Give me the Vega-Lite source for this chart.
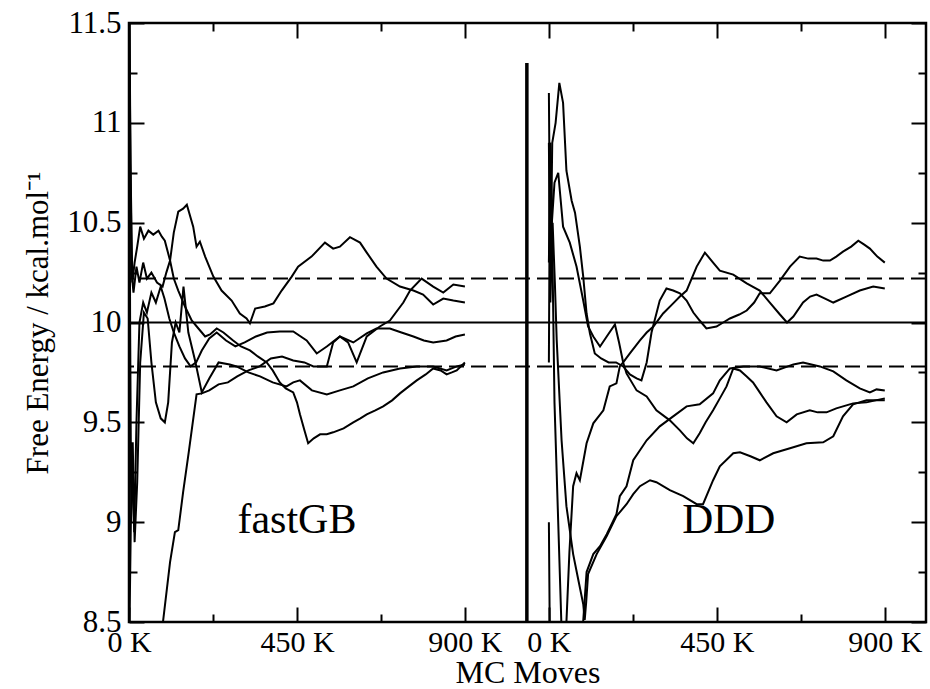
{
  "$schema": "https://vega.github.io/schema/vega-lite/v6.json",
  "width": 797,
  "height": 599,
  "autosize": {"type": "none"},
  "padding": {"left": 129, "top": 23, "right": 4, "bottom": 67},
  "background": "white",
  "config": {
    "view": {"stroke": "black", "strokeWidth": 2.5},
    "font": "Liberation Serif",
    "axis": {
      "domain": false, "grid": false, "tickColor": "black", "tickWidth": 2,
      "labelFont": "Liberation Serif", "labelFontSize": 31, "labelColor": "black",
      "labelFlush": false, "labelOverlap": false, "labelBound": false,
      "titleFont": "Liberation Serif", "titleFontWeight": "normal", "titleColor": "black"
    }
  },
  "datasets": {
    "fastGB": [
      {"run":"L1","moves":0,"fe":11.9},{"run":"L1","moves":3,"fe":11.0},{"run":"L1","moves":7,"fe":10.25},{"run":"L1","moves":12,"fe":10.15},{"run":"L1","moves":20,"fe":10.28},{"run":"L1","moves":28,"fe":10.2},{"run":"L1","moves":38,"fe":10.3},{"run":"L1","moves":48,"fe":10.22},{"run":"L1","moves":60,"fe":10.25},{"run":"L1","moves":75,"fe":10.2},{"run":"L1","moves":90,"fe":10.18},{"run":"L1","moves":100,"fe":10.25},{"run":"L1","moves":110,"fe":10.31},{"run":"L1","moves":120,"fe":10.45},{"run":"L1","moves":132,"fe":10.555},{"run":"L1","moves":145,"fe":10.57},{"run":"L1","moves":155,"fe":10.59},{"run":"L1","moves":172,"fe":10.48},{"run":"L1","moves":181,"fe":10.38},{"run":"L1","moves":190,"fe":10.405},{"run":"L1","moves":204,"fe":10.33},{"run":"L1","moves":226,"fe":10.23},{"run":"L1","moves":248,"fe":10.16},{"run":"L1","moves":275,"fe":10.11},{"run":"L1","moves":297,"fe":10.045},{"run":"L1","moves":315,"fe":10.02},{"run":"L1","moves":324,"fe":9.996},{"run":"L1","moves":338,"fe":10.07},{"run":"L1","moves":364,"fe":10.08},{"run":"L1","moves":387,"fe":10.096},{"run":"L1","moves":409,"fe":10.16},{"run":"L1","moves":436,"fe":10.23},{"run":"L1","moves":453,"fe":10.28},{"run":"L1","moves":489,"fe":10.33},{"run":"L1","moves":525,"fe":10.4},{"run":"L1","moves":547,"fe":10.37},{"run":"L1","moves":565,"fe":10.38},{"run":"L1","moves":592,"fe":10.427},{"run":"L1","moves":619,"fe":10.4},{"run":"L1","moves":637,"fe":10.35},{"run":"L1","moves":663,"fe":10.28},{"run":"L1","moves":690,"fe":10.22},{"run":"L1","moves":726,"fe":10.18},{"run":"L1","moves":762,"fe":10.16},{"run":"L1","moves":788,"fe":10.14},{"run":"L1","moves":815,"fe":10.09},{"run":"L1","moves":842,"fe":10.12},{"run":"L1","moves":869,"fe":10.11},{"run":"L1","moves":900,"fe":10.1},
      {"run":"L2","moves":0,"fe":11.8},{"run":"L2","moves":3,"fe":10.0},{"run":"L2","moves":6,"fe":9.0},{"run":"L2","moves":10,"fe":9.4},{"run":"L2","moves":15,"fe":8.9},{"run":"L2","moves":22,"fe":9.2},{"run":"L2","moves":30,"fe":9.8},{"run":"L2","moves":40,"fe":10.05},{"run":"L2","moves":50,"fe":10.02},{"run":"L2","moves":60,"fe":9.8},{"run":"L2","moves":72,"fe":9.6},{"run":"L2","moves":85,"fe":9.52},{"run":"L2","moves":96,"fe":9.5},{"run":"L2","moves":105,"fe":9.6},{"run":"L2","moves":115,"fe":9.9},{"run":"L2","moves":125,"fe":10.0},{"run":"L2","moves":135,"fe":9.95},{"run":"L2","moves":146,"fe":10.18},{"run":"L2","moves":159,"fe":9.95},{"run":"L2","moves":177,"fe":9.81},{"run":"L2","moves":195,"fe":9.65},{"run":"L2","moves":215,"fe":9.72},{"run":"L2","moves":240,"fe":9.8},{"run":"L2","moves":270,"fe":9.79},{"run":"L2","moves":288,"fe":9.78},{"run":"L2","moves":320,"fe":9.75},{"run":"L2","moves":351,"fe":9.73},{"run":"L2","moves":385,"fe":9.7},{"run":"L2","moves":422,"fe":9.68},{"run":"L2","moves":440,"fe":9.7},{"run":"L2","moves":458,"fe":9.71},{"run":"L2","moves":490,"fe":9.66},{"run":"L2","moves":530,"fe":9.64},{"run":"L2","moves":565,"fe":9.66},{"run":"L2","moves":601,"fe":9.68},{"run":"L2","moves":640,"fe":9.72},{"run":"L2","moves":681,"fe":9.75},{"run":"L2","moves":726,"fe":9.77},{"run":"L2","moves":771,"fe":9.78},{"run":"L2","moves":815,"fe":9.78},{"run":"L2","moves":851,"fe":9.76},{"run":"L2","moves":878,"fe":9.78},{"run":"L2","moves":900,"fe":9.79},
      {"run":"L3","moves":0,"fe":11.9},{"run":"L3","moves":4,"fe":10.8},{"run":"L3","moves":9,"fe":10.2},{"run":"L3","moves":15,"fe":10.3},{"run":"L3","moves":22,"fe":10.38},{"run":"L3","moves":30,"fe":10.48},{"run":"L3","moves":40,"fe":10.42},{"run":"L3","moves":52,"fe":10.46},{"run":"L3","moves":65,"fe":10.44},{"run":"L3","moves":79,"fe":10.46},{"run":"L3","moves":88,"fe":10.43},{"run":"L3","moves":96,"fe":10.41},{"run":"L3","moves":110,"fe":10.31},{"run":"L3","moves":120,"fe":10.22},{"run":"L3","moves":132,"fe":10.16},{"run":"L3","moves":150,"fe":10.08},{"run":"L3","moves":168,"fe":10.01},{"run":"L3","moves":186,"fe":9.97},{"run":"L3","moves":204,"fe":9.93},{"run":"L3","moves":217,"fe":9.94},{"run":"L3","moves":235,"fe":9.97},{"run":"L3","moves":253,"fe":9.95},{"run":"L3","moves":279,"fe":9.91},{"run":"L3","moves":300,"fe":9.88},{"run":"L3","moves":324,"fe":9.86},{"run":"L3","moves":345,"fe":9.83},{"run":"L3","moves":369,"fe":9.8},{"run":"L3","moves":385,"fe":9.76},{"run":"L3","moves":404,"fe":9.7},{"run":"L3","moves":420,"fe":9.67},{"run":"L3","moves":440,"fe":9.65},{"run":"L3","moves":450,"fe":9.6},{"run":"L3","moves":458,"fe":9.54},{"run":"L3","moves":470,"fe":9.46},{"run":"L3","moves":480,"fe":9.395},{"run":"L3","moves":495,"fe":9.42},{"run":"L3","moves":512,"fe":9.44},{"run":"L3","moves":530,"fe":9.44},{"run":"L3","moves":547,"fe":9.45},{"run":"L3","moves":575,"fe":9.47},{"run":"L3","moves":601,"fe":9.5},{"run":"L3","moves":620,"fe":9.52},{"run":"L3","moves":637,"fe":9.54},{"run":"L3","moves":660,"fe":9.56},{"run":"L3","moves":681,"fe":9.58},{"run":"L3","moves":705,"fe":9.61},{"run":"L3","moves":726,"fe":9.645},{"run":"L3","moves":750,"fe":9.68},{"run":"L3","moves":771,"fe":9.71},{"run":"L3","moves":795,"fe":9.74},{"run":"L3","moves":815,"fe":9.77},{"run":"L3","moves":835,"fe":9.76},{"run":"L3","moves":851,"fe":9.74},{"run":"L3","moves":865,"fe":9.75},{"run":"L3","moves":878,"fe":9.76},{"run":"L3","moves":900,"fe":9.8},
      {"run":"L4","moves":0,"fe":8.3},{"run":"L4","moves":5,"fe":9.0},{"run":"L4","moves":10,"fe":9.3},{"run":"L4","moves":14,"fe":8.95},{"run":"L4","moves":20,"fe":9.5},{"run":"L4","moves":28,"fe":10.0},{"run":"L4","moves":38,"fe":10.1},{"run":"L4","moves":48,"fe":10.05},{"run":"L4","moves":60,"fe":10.15},{"run":"L4","moves":72,"fe":10.1},{"run":"L4","moves":85,"fe":10.18},{"run":"L4","moves":95,"fe":10.12},{"run":"L4","moves":108,"fe":10.02},{"run":"L4","moves":120,"fe":9.95},{"run":"L4","moves":135,"fe":9.88},{"run":"L4","moves":150,"fe":9.82},{"run":"L4","moves":165,"fe":9.78},{"run":"L4","moves":180,"fe":9.8},{"run":"L4","moves":195,"fe":9.86},{"run":"L4","moves":215,"fe":9.92},{"run":"L4","moves":235,"fe":9.95},{"run":"L4","moves":260,"fe":9.91},{"run":"L4","moves":285,"fe":9.88},{"run":"L4","moves":310,"fe":9.9},{"run":"L4","moves":340,"fe":9.93},{"run":"L4","moves":370,"fe":9.95},{"run":"L4","moves":404,"fe":9.955},{"run":"L4","moves":440,"fe":9.955},{"run":"L4","moves":476,"fe":9.91},{"run":"L4","moves":503,"fe":9.845},{"run":"L4","moves":530,"fe":9.88},{"run":"L4","moves":565,"fe":9.93},{"run":"L4","moves":601,"fe":9.9},{"run":"L4","moves":637,"fe":9.945},{"run":"L4","moves":663,"fe":9.97},{"run":"L4","moves":699,"fe":9.97},{"run":"L4","moves":730,"fe":9.95},{"run":"L4","moves":762,"fe":9.93},{"run":"L4","moves":790,"fe":9.91},{"run":"L4","moves":815,"fe":9.9},{"run":"L4","moves":851,"fe":9.91},{"run":"L4","moves":875,"fe":9.93},{"run":"L4","moves":900,"fe":9.94},
      {"run":"L5","moves":0,"fe":7.8},{"run":"L5","moves":40,"fe":8.1},{"run":"L5","moves":91,"fe":8.5},{"run":"L5","moves":110,"fe":8.8},{"run":"L5","moves":123,"fe":8.95},{"run":"L5","moves":132,"fe":8.96},{"run":"L5","moves":145,"fe":9.15},{"run":"L5","moves":160,"fe":9.35},{"run":"L5","moves":181,"fe":9.64},{"run":"L5","moves":195,"fe":9.645},{"run":"L5","moves":215,"fe":9.66},{"run":"L5","moves":240,"fe":9.69},{"run":"L5","moves":265,"fe":9.7},{"run":"L5","moves":290,"fe":9.73},{"run":"L5","moves":320,"fe":9.76},{"run":"L5","moves":350,"fe":9.78},{"run":"L5","moves":380,"fe":9.82},{"run":"L5","moves":410,"fe":9.83},{"run":"L5","moves":440,"fe":9.81},{"run":"L5","moves":470,"fe":9.8},{"run":"L5","moves":494,"fe":9.78},{"run":"L5","moves":530,"fe":9.78},{"run":"L5","moves":547,"fe":9.9},{"run":"L5","moves":565,"fe":9.93},{"run":"L5","moves":587,"fe":9.9},{"run":"L5","moves":610,"fe":9.8},{"run":"L5","moves":637,"fe":9.93},{"run":"L5","moves":672,"fe":9.98},{"run":"L5","moves":699,"fe":10.01},{"run":"L5","moves":735,"fe":10.1},{"run":"L5","moves":753,"fe":10.16},{"run":"L5","moves":784,"fe":10.22},{"run":"L5","moves":815,"fe":10.18},{"run":"L5","moves":842,"fe":10.15},{"run":"L5","moves":869,"fe":10.19},{"run":"L5","moves":900,"fe":10.18}
    ],
    "DDD": [
      {"run":"RA","moves":0,"fe":11.15},{"run":"RA","moves":4,"fe":10.2},{"run":"RA","moves":9,"fe":10.9},{"run":"RA","moves":18,"fe":11.0},{"run":"RA","moves":28,"fe":11.2},{"run":"RA","moves":38,"fe":11.1},{"run":"RA","moves":47,"fe":10.76},{"run":"RA","moves":61,"fe":10.61},{"run":"RA","moves":70,"fe":10.55},{"run":"RA","moves":83,"fe":10.38},{"run":"RA","moves":92,"fe":10.23},{"run":"RA","moves":101,"fe":10.045},{"run":"RA","moves":110,"fe":9.945},{"run":"RA","moves":123,"fe":9.845},{"run":"RA","moves":140,"fe":9.82},{"run":"RA","moves":160,"fe":9.8},{"run":"RA","moves":180,"fe":9.8},{"run":"RA","moves":199,"fe":9.78},{"run":"RA","moves":217,"fe":9.74},{"run":"RA","moves":235,"fe":9.72},{"run":"RA","moves":248,"fe":9.71},{"run":"RA","moves":262,"fe":9.8},{"run":"RA","moves":275,"fe":9.95},{"run":"RA","moves":297,"fe":10.11},{"run":"RA","moves":315,"fe":10.17},{"run":"RA","moves":333,"fe":10.16},{"run":"RA","moves":351,"fe":10.146},{"run":"RA","moves":369,"fe":10.11},{"run":"RA","moves":387,"fe":10.05},{"run":"RA","moves":404,"fe":10.01},{"run":"RA","moves":422,"fe":9.97},{"run":"RA","moves":449,"fe":9.98},{"run":"RA","moves":467,"fe":10.0},{"run":"RA","moves":485,"fe":10.02},{"run":"RA","moves":510,"fe":10.04},{"run":"RA","moves":530,"fe":10.06},{"run":"RA","moves":550,"fe":10.1},{"run":"RA","moves":565,"fe":10.146},{"run":"RA","moves":592,"fe":10.146},{"run":"RA","moves":619,"fe":10.21},{"run":"RA","moves":646,"fe":10.28},{"run":"RA","moves":672,"fe":10.33},{"run":"RA","moves":695,"fe":10.32},{"run":"RA","moves":717,"fe":10.32},{"run":"RA","moves":735,"fe":10.31},{"run":"RA","moves":753,"fe":10.31},{"run":"RA","moves":770,"fe":10.33},{"run":"RA","moves":788,"fe":10.355},{"run":"RA","moves":810,"fe":10.38},{"run":"RA","moves":829,"fe":10.41},{"run":"RA","moves":845,"fe":10.39},{"run":"RA","moves":860,"fe":10.37},{"run":"RA","moves":880,"fe":10.33},{"run":"RA","moves":900,"fe":10.3},
      {"run":"RB","moves":0,"fe":9.8},{"run":"RB","moves":3,"fe":10.9},{"run":"RB","moves":8,"fe":10.5},{"run":"RB","moves":15,"fe":10.7},{"run":"RB","moves":25,"fe":10.75},{"run":"RB","moves":38,"fe":10.48},{"run":"RB","moves":56,"fe":10.4},{"run":"RB","moves":74,"fe":10.28},{"run":"RB","moves":92,"fe":10.11},{"run":"RB","moves":105,"fe":9.98},{"run":"RB","moves":119,"fe":9.93},{"run":"RB","moves":137,"fe":9.88},{"run":"RB","moves":155,"fe":9.93},{"run":"RB","moves":177,"fe":9.99},{"run":"RB","moves":188,"fe":9.9},{"run":"RB","moves":199,"fe":9.8},{"run":"RB","moves":208,"fe":9.745},{"run":"RB","moves":235,"fe":9.66},{"run":"RB","moves":262,"fe":9.63},{"run":"RB","moves":288,"fe":9.56},{"run":"RB","moves":324,"fe":9.51},{"run":"RB","moves":351,"fe":9.46},{"run":"RB","moves":370,"fe":9.42},{"run":"RB","moves":387,"fe":9.395},{"run":"RB","moves":404,"fe":9.445},{"run":"RB","moves":420,"fe":9.5},{"run":"RB","moves":440,"fe":9.56},{"run":"RB","moves":458,"fe":9.62},{"run":"RB","moves":476,"fe":9.68},{"run":"RB","moves":494,"fe":9.77},{"run":"RB","moves":512,"fe":9.76},{"run":"RB","moves":530,"fe":9.73},{"run":"RB","moves":547,"fe":9.7},{"run":"RB","moves":565,"fe":9.65},{"run":"RB","moves":583,"fe":9.6},{"run":"RB","moves":610,"fe":9.53},{"run":"RB","moves":637,"fe":9.5},{"run":"RB","moves":664,"fe":9.54},{"run":"RB","moves":699,"fe":9.56},{"run":"RB","moves":720,"fe":9.55},{"run":"RB","moves":744,"fe":9.55},{"run":"RB","moves":770,"fe":9.57},{"run":"RB","moves":788,"fe":9.58},{"run":"RB","moves":815,"fe":9.595},{"run":"RB","moves":851,"fe":9.6},{"run":"RB","moves":875,"fe":9.61},{"run":"RB","moves":900,"fe":9.62},
      {"run":"RC","moves":0,"fe":10.3},{"run":"RC","moves":4,"fe":10.9},{"run":"RC","moves":9,"fe":10.4},{"run":"RC","moves":15,"fe":9.6},{"run":"RC","moves":25,"fe":9.0},{"run":"RC","moves":35,"fe":8.4},{"run":"RC","moves":42,"fe":8.2},{"run":"RC","moves":47,"fe":8.5},{"run":"RC","moves":55,"fe":8.85},{"run":"RC","moves":65,"fe":9.18},{"run":"RC","moves":74,"fe":9.245},{"run":"RC","moves":83,"fe":9.21},{"run":"RC","moves":101,"fe":9.395},{"run":"RC","moves":119,"fe":9.495},{"run":"RC","moves":146,"fe":9.56},{"run":"RC","moves":163,"fe":9.68},{"run":"RC","moves":181,"fe":9.695},{"run":"RC","moves":190,"fe":9.78},{"run":"RC","moves":199,"fe":9.8},{"run":"RC","moves":217,"fe":9.845},{"run":"RC","moves":244,"fe":9.91},{"run":"RC","moves":262,"fe":9.95},{"run":"RC","moves":280,"fe":9.98},{"run":"RC","moves":306,"fe":10.045},{"run":"RC","moves":333,"fe":10.096},{"run":"RC","moves":351,"fe":10.13},{"run":"RC","moves":369,"fe":10.16},{"run":"RC","moves":396,"fe":10.28},{"run":"RC","moves":418,"fe":10.35},{"run":"RC","moves":440,"fe":10.3},{"run":"RC","moves":458,"fe":10.26},{"run":"RC","moves":494,"fe":10.24},{"run":"RC","moves":530,"fe":10.196},{"run":"RC","moves":565,"fe":10.16},{"run":"RC","moves":592,"fe":10.1},{"run":"RC","moves":619,"fe":10.04},{"run":"RC","moves":638,"fe":10.0},{"run":"RC","moves":655,"fe":10.03},{"run":"RC","moves":681,"fe":10.1},{"run":"RC","moves":700,"fe":10.13},{"run":"RC","moves":717,"fe":10.14},{"run":"RC","moves":740,"fe":10.12},{"run":"RC","moves":762,"fe":10.1},{"run":"RC","moves":797,"fe":10.13},{"run":"RC","moves":833,"fe":10.16},{"run":"RC","moves":869,"fe":10.18},{"run":"RC","moves":900,"fe":10.17},
      {"run":"RD","moves":0,"fe":10.9},{"run":"RD","moves":4,"fe":10.1},{"run":"RD","moves":10,"fe":10.5},{"run":"RD","moves":16,"fe":10.2},{"run":"RD","moves":21,"fe":9.91},{"run":"RD","moves":34,"fe":9.41},{"run":"RD","moves":47,"fe":9.08},{"run":"RD","moves":65,"fe":8.84},{"run":"RD","moves":80,"fe":8.7},{"run":"RD","moves":92,"fe":8.59},{"run":"RD","moves":96,"fe":8.51},{"run":"RD","moves":100,"fe":8.6},{"run":"RD","moves":105,"fe":8.74},{"run":"RD","moves":128,"fe":8.84},{"run":"RD","moves":155,"fe":8.93},{"run":"RD","moves":181,"fe":9.03},{"run":"RD","moves":208,"fe":9.09},{"run":"RD","moves":226,"fe":9.14},{"run":"RD","moves":244,"fe":9.18},{"run":"RD","moves":271,"fe":9.21},{"run":"RD","moves":288,"fe":9.2},{"run":"RD","moves":324,"fe":9.16},{"run":"RD","moves":360,"fe":9.13},{"run":"RD","moves":396,"fe":9.09},{"run":"RD","moves":413,"fe":9.09},{"run":"RD","moves":440,"fe":9.21},{"run":"RD","moves":458,"fe":9.28},{"run":"RD","moves":494,"fe":9.345},{"run":"RD","moves":512,"fe":9.35},{"run":"RD","moves":540,"fe":9.33},{"run":"RD","moves":565,"fe":9.31},{"run":"RD","moves":601,"fe":9.345},{"run":"RD","moves":646,"fe":9.37},{"run":"RD","moves":690,"fe":9.395},{"run":"RD","moves":735,"fe":9.4},{"run":"RD","moves":762,"fe":9.43},{"run":"RD","moves":788,"fe":9.53},{"run":"RD","moves":815,"fe":9.59},{"run":"RD","moves":851,"fe":9.61},{"run":"RD","moves":900,"fe":9.61},
      {"run":"RE","moves":0,"fe":9.0},{"run":"RE","moves":3,"fe":8.3},{"run":"RE","moves":20,"fe":8.2},{"run":"RE","moves":60,"fe":8.3},{"run":"RE","moves":90,"fe":8.45},{"run":"RE","moves":101,"fe":8.75},{"run":"RE","moves":119,"fe":8.84},{"run":"RE","moves":137,"fe":8.88},{"run":"RE","moves":155,"fe":8.94},{"run":"RE","moves":181,"fe":9.04},{"run":"RE","moves":190,"fe":9.13},{"run":"RE","moves":208,"fe":9.18},{"run":"RE","moves":226,"fe":9.31},{"run":"RE","moves":244,"fe":9.36},{"run":"RE","moves":262,"fe":9.41},{"run":"RE","moves":297,"fe":9.48},{"run":"RE","moves":333,"fe":9.53},{"run":"RE","moves":369,"fe":9.58},{"run":"RE","moves":404,"fe":9.59},{"run":"RE","moves":440,"fe":9.645},{"run":"RE","moves":458,"fe":9.71},{"run":"RE","moves":485,"fe":9.77},{"run":"RE","moves":521,"fe":9.78},{"run":"RE","moves":565,"fe":9.78},{"run":"RE","moves":610,"fe":9.76},{"run":"RE","moves":655,"fe":9.79},{"run":"RE","moves":681,"fe":9.8},{"run":"RE","moves":726,"fe":9.78},{"run":"RE","moves":762,"fe":9.755},{"run":"RE","moves":797,"fe":9.71},{"run":"RE","moves":833,"fe":9.67},{"run":"RE","moves":860,"fe":9.65},{"run":"RE","moves":878,"fe":9.665},{"run":"RE","moves":900,"fe":9.66}
    ],
    "refs": [
      {"fe": 10.0, "style": "solid"},
      {"fe": 10.22, "style": "dashed"},
      {"fe": 9.78, "style": "dashed"}
    ],
    "divider": [{"moves": -59, "lo": 8.5, "hi": 11.3}],
    "labelLeft": [{"label": "fastGB", "moves": 450, "fe": 8.946}],
    "labelRight": [{"label": "DDD", "moves": 482, "fe": 8.946}]
  },
  "layer": [
    {
      "data": {"name": "fastGB"},
      "mark": {"type": "line", "clip": true, "color": "black", "strokeWidth": 2},
      "encoding": {
        "x": {"field": "moves", "type": "quantitative",
          "scale": {"domain": [0, 2135.4], "nice": false, "zero": false},
          "axis": {"orient": "bottom", "values": [0, 450, 900], "labelExpr": "datum.value + ' K'", "tickSize": -15, "labelFontSize": 30, "labelPadding": 20, "title": "MC Moves", "titleFontSize": 32, "titlePadding": 0}},
        "y": {"field": "fe", "type": "quantitative",
          "scale": {"domain": [8.5, 11.5], "nice": false, "zero": false},
          "axis": {"orient": "left", "values": [8.5, 9, 9.5, 10, 10.5, 11, 11.5], "labelExpr": "'' + datum.value", "tickSize": -15, "labelPadding": 23, "title": "Free Energy / kcal.mol⁻¹", "titleFontSize": 31, "titlePadding": 12}},
        "detail": {"field": "run"}
      }
    },
    {
      "data": {"name": "DDD"},
      "mark": {"type": "line", "clip": true, "color": "black", "strokeWidth": 2},
      "encoding": {
        "x": {"field": "moves", "type": "quantitative",
          "scale": {"domain": [-1125, 1010.4], "nice": false, "zero": false},
          "axis": {"orient": "bottom", "values": [0, 450, 900], "labelExpr": "datum.value + ' K'", "tickSize": -15, "labelFontSize": 30, "labelPadding": 20, "title": null}},
        "y": {"field": "fe", "type": "quantitative",
          "scale": {"domain": [8.5, 11.5], "nice": false, "zero": false},
          "axis": {"orient": "right", "values": [8.5, 9, 9.5, 10, 10.5, 11, 11.5], "tickSize": -15, "labels": false, "title": null}},
        "detail": {"field": "run"}
      }
    },
    {
      "data": {"name": "divider"},
      "mark": {"type": "rule", "color": "black", "strokeWidth": 3.5},
      "encoding": {
        "x": {"field": "moves", "type": "quantitative",
          "scale": {"domain": [-1125, 1010.4], "nice": false, "zero": false},
          "axis": {"orient": "top", "values": [-675, -225, 0, 450, 900], "tickSize": -15, "labels": false, "title": null}},
        "y": {"field": "lo", "type": "quantitative",
          "scale": {"domain": [8.5, 11.5], "nice": false, "zero": false},
          "axis": {"orient": "left", "values": [8.75, 9.25, 9.75, 10.25, 10.75, 11.25], "tickSize": -8, "labels": false, "title": null}},
        "y2": {"field": "hi"}
      }
    },
    {
      "data": {"name": "refs"},
      "mark": {"type": "rule", "color": "black", "strokeWidth": 2},
      "encoding": {
        "y": {"field": "fe", "type": "quantitative",
          "scale": {"domain": [8.5, 11.5], "nice": false, "zero": false},
          "axis": {"orient": "right", "values": [8.75, 9.25, 9.75, 10.25, 10.75, 11.25], "tickSize": -8, "labels": false, "title": null}},
        "strokeDash": {"field": "style", "type": "nominal",
          "scale": {"domain": ["solid", "dashed"], "range": [[1, 0], [15, 7]]}, "legend": null}
      }
    },
    {
      "data": {"name": "labelLeft"},
      "mark": {"type": "text", "font": "Liberation Serif", "fontSize": 42, "baseline": "alphabetic", "align": "center", "color": "black"},
      "encoding": {
        "x": {"field": "moves", "type": "quantitative",
          "scale": {"domain": [0, 2135.4], "nice": false, "zero": false},
          "axis": {"orient": "top", "values": [225, 675, 1350, 1800], "tickSize": -8, "labels": false, "title": null}},
        "y": {"field": "fe", "type": "quantitative",
          "scale": {"domain": [8.5, 11.5], "nice": false, "zero": false}, "axis": null},
        "text": {"field": "label"}
      }
    },
    {
      "data": {"name": "labelRight"},
      "mark": {"type": "text", "font": "Liberation Serif", "fontSize": 43, "baseline": "alphabetic", "align": "center", "color": "black"},
      "encoding": {
        "x": {"field": "moves", "type": "quantitative",
          "scale": {"domain": [-1125, 1010.4], "nice": false, "zero": false},
          "axis": {"orient": "bottom", "values": [-900, -450, 225, 675], "tickSize": -8, "labels": false, "title": null}},
        "y": {"field": "fe", "type": "quantitative",
          "scale": {"domain": [8.5, 11.5], "nice": false, "zero": false}, "axis": null},
        "text": {"field": "label"}
      }
    }
  ],
  "resolve": {
    "scale": {"x": "independent", "y": "independent"},
    "axis": {"x": "independent", "y": "independent"}
  }
}
